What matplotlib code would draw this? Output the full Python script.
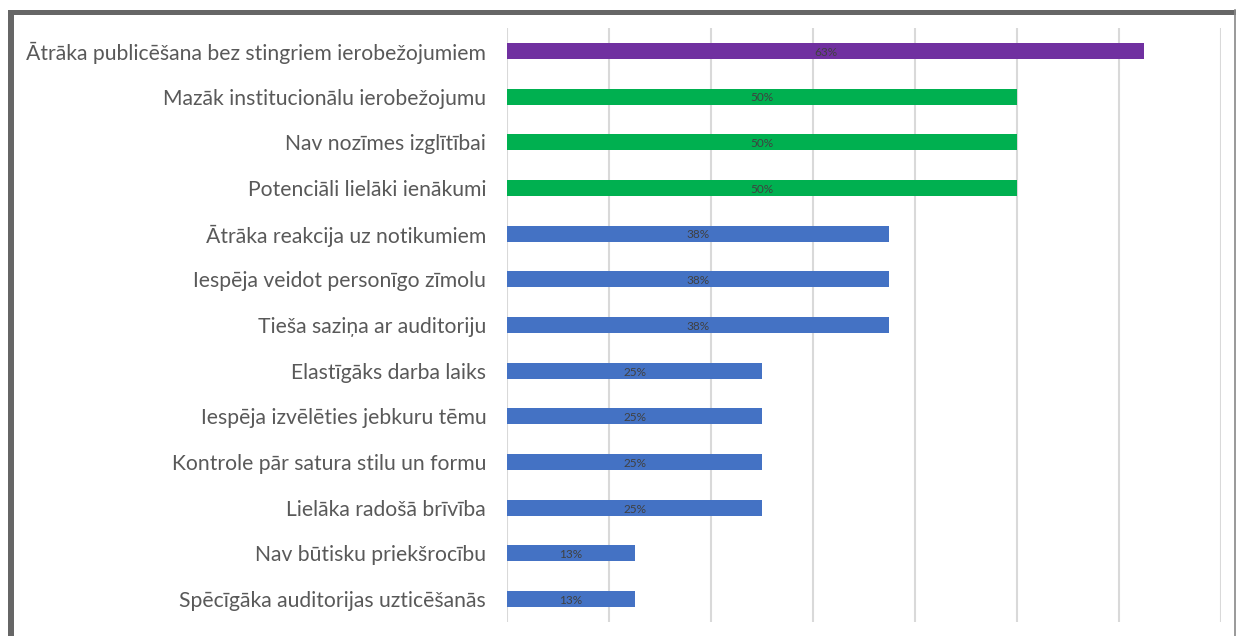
import matplotlib
matplotlib.use("Agg")
import matplotlib.pyplot as plt
from matplotlib.patches import Rectangle
from matplotlib.lines import Line2D

categories = [
    "Ātrāka publicēšana bez stingriem ierobežojumiem",
    "Mazāk institucionālu ierobežojumu",
    "Nav nozīmes izglītībai",
    "Potenciāli lielāki ienākumi",
    "Ātrāka reakcija uz notikumiem",
    "Iespēja veidot personīgo zīmolu",
    "Tieša saziņa ar auditoriju",
    "Elastīgāks darba laiks",
    "Iespēja izvēlēties jebkuru tēmu",
    "Kontrole pār satura stilu un formu",
    "Lielāka radošā brīvība",
    "Nav būtisku priekšrocību",
    "Spēcīgāka auditorijas uzticēšanās",
]
values = [0.625, 0.50, 0.50, 0.50, 0.375, 0.375, 0.375, 0.25, 0.25, 0.25, 0.25, 0.125, 0.125]
value_labels = ["63%", "50%", "50%", "50%", "38%", "38%", "38%", "25%", "25%", "25%", "25%", "13%", "13%"]
bar_colors = ["#7030A0", "#00B050", "#00B050", "#00B050"] + ["#4472C4"] * 9

W, H = 1236, 636
fig = plt.figure(figsize=(W / 100, H / 100), dpi=100)
fig.patch.set_facecolor("white")

# axes placement in pixels
left, right, top, bottom = 507, 1221, 28, 622
ax = fig.add_axes([left / W, 1 - bottom / H, (right - left) / W, (bottom - top) / H])

y = list(range(len(categories)))
ax.barh(y, values, height=0.35, color=bar_colors, zorder=3)
for yi, v, lab in zip(y, values, value_labels):
    ax.text(v / 2, yi + 0.03, lab, ha="center", va="center", fontsize=8.5,
            color="#404040", family="Lato", zorder=4)

ax.set_xlim(0, 0.7)
ax.set_ylim(len(categories) - 0.5, -0.5)
ax.set_xticks([i / 10 for i in range(8)])
ax.xaxis.grid(True, color="#d9d9d9", linewidth=1.5, zorder=0)
ax.tick_params(axis="x", length=0, labelbottom=False)
ax.tick_params(axis="y", length=0, pad=15)
ax.set_yticks(y)
ax.set_yticklabels(categories, fontsize=15.2, color="#595959", family="Lato")
for s in ax.spines.values():
    s.set_visible(False)

# frame of the screenshot
fig.add_artist(Rectangle((8 / W, 0), 6 / W, 1 - 10 / H, transform=fig.transFigure,
                         facecolor="#666666", edgecolor="none"))
fig.add_artist(Rectangle((8 / W, 1 - 15 / H), (1236 - 8) / W, 5 / H, transform=fig.transFigure,
                         facecolor="#666666", edgecolor="none"))
fig.add_artist(Line2D([1235 / W, 1235 / W], [0, 1 - 10 / H], transform=fig.transFigure,
                      color="#888888", linewidth=1.2))

fig.savefig("out.png", dpi=100)
